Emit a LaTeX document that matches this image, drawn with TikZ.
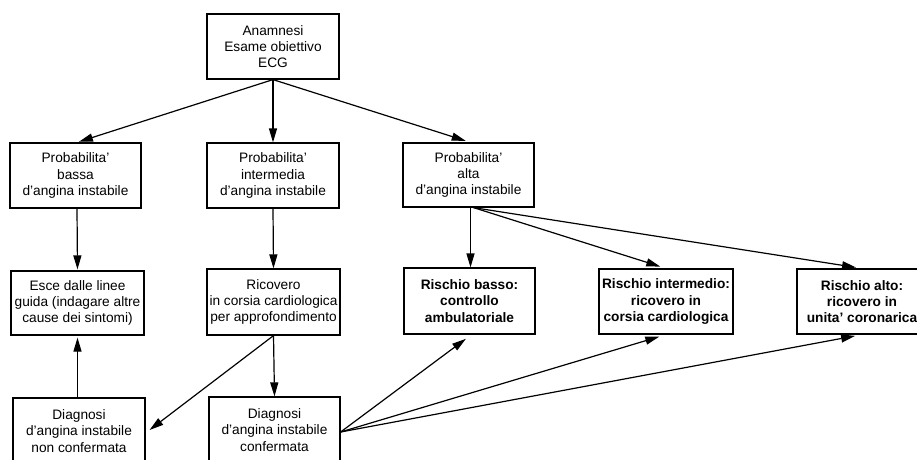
\documentclass[tikz,border=0pt]{standalone}
\usepackage{fontspec}
\setmainfont{Liberation Sans}
\usetikzlibrary{arrows.meta}
\begin{document}
\begin{tikzpicture}[x=1pt,y=-1pt,
  box/.style={draw,line width=1.2pt,align=center,inner sep=0pt,
    minimum width=132pt,minimum height=65pt,
    font=\fontsize{13.7}{16.3}\selectfont},
  boldbox/.style={box,font=\fontsize{13.7}{16.3}\selectfont\bfseries},
  arr/.style={line width=1.2pt,-{Triangle[length=14pt,width=8pt]}}]
\useasboundingbox (0,0) rectangle (917,459);
\clip (0,0) rectangle (917,459);
% row 1
\node[box] (A) at (273,46.5) {Anamnesi\\Esame obiettivo\\ECG};
% row 2
\node[box,minimum width=131pt] (P1) at (75.5,175.5) {Probabilita'\\bassa\\d'angina instabile};
\node[box] (P2) at (273,175.5) {Probabilita'\\intermedia\\d'angina instabile};
\node[box,minimum width=131pt,minimum height=64pt] (P3) at (468.5,175) {Probabilita'\\alta\\d'angina instabile};
% row 3
\node[box,minimum width=133pt,minimum height=64pt] (E) at (77.5,303) {Esce dalle linee\\guida (indagare altre\\cause dei sintomi)};
\node[box,minimum width=133pt,minimum height=66pt] (R) at (273.5,302) {Ricovero\\in corsia cardiologica\\per approfondimento};
\node[boldbox,minimum width=131pt,minimum height=66pt] (RB) at (469.5,301) {Rischio basso:\\controllo\\ambulatoriale};
\node[boldbox,minimum width=134pt] (RI) at (666,301.5) {Rischio intermedio:\\ricovero in\\corsia cardiologica};
\node[boldbox,minimum width=130pt] (RA) at (862,301.5) {Rischio alto:\\ricovero in\\unita' coronarica};
% row 4
\node[box,minimum height=66pt] (D1) at (79,431) {Diagnosi\\d'angina instabile\\non confermata};
\node[box,minimum width=131pt,minimum height=66pt] (D2) at (274.5,430) {Diagnosi\\d'angina instabile\\confermata};
% connectors
\draw[arr,shorten >=2pt] (A.south) -- ([xshift=1.5pt]P1.north);
\draw[arr] (A.south) -- (P2.north);
\draw[arr,shorten >=5pt] (A.south) -- ([xshift=2pt]P3.north);
\draw[arr,shorten >=1pt] ([xshift=1.5pt]P1.south) -- (E.north);
\draw[arr] (P2.south) -- (R.north);
\draw[arr] ([xshift=2pt]P3.south) -- ([xshift=1pt]RB.north);
\draw[arr,shorten >=6pt] ([xshift=5pt]P3.south) -- (RI.north);
\draw[arr,shorten >=6pt] ([xshift=5pt]P3.south) -- (RA.north);
\draw[arr,shorten >=2pt] ([xshift=-1.5pt]D1.north) -- (E.south);
\draw[arr,shorten >=5pt] (R.south) -- ([yshift=-2pt]D1.east);
\draw[arr] (R.south) -- (D2.north);
\draw[arr,shorten >=7pt] ([yshift=-2pt]D2.east) -- ([xshift=2pt]RB.south);
\draw[arr,shorten >=7pt] ([yshift=-2pt]D2.east) -- (RI.south);
\draw[arr,shorten >=7pt] ([yshift=-2pt]D2.east) -- (RA.south);
\end{tikzpicture}
\end{document}
